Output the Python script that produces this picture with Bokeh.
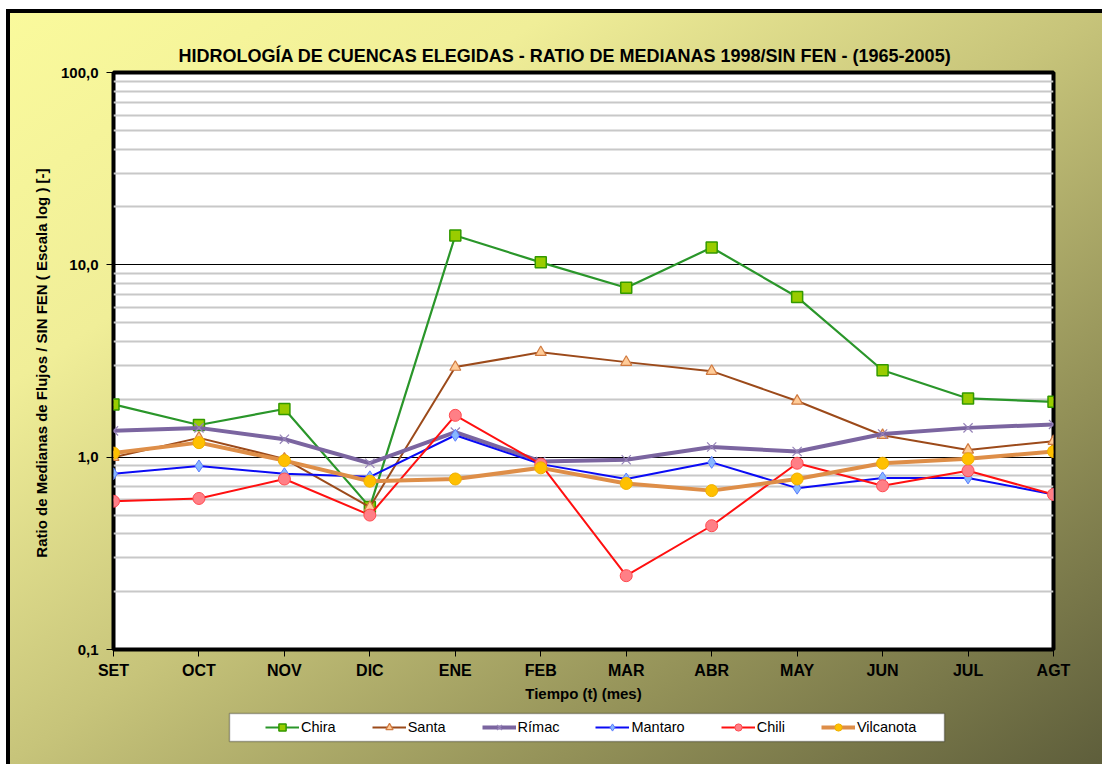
from bokeh.plotting import figure
from bokeh.layouts import column
from bokeh.models import (Range1d, FixedTicker, CustomJSTickFormatter, Legend, LegendItem, BoxAnnotation)
from bokeh.embed import file_html
from bokeh.resources import INLINE

months = ["SET", "OCT", "NOV", "DIC", "ENE", "FEB", "MAR", "ABR", "MAY", "JUN", "JUL", "AGT"]
chira = [1.88, 1.47, 1.78, 0.55, 14.2, 10.3, 7.6, 12.3, 6.8, 2.83, 2.02, 1.94]
santa = [1.00, 1.26, 0.98, 0.55, 2.94, 3.51, 3.12, 2.80, 1.96, 1.30, 1.09, 1.21]
rimac = [1.37, 1.42, 1.24, 0.93, 1.35, 0.95, 0.97, 1.13, 1.07, 1.32, 1.42, 1.48]
mantaro = [0.82, 0.90, 0.82, 0.79, 1.30, 0.92, 0.77, 0.94, 0.69, 0.78, 0.78, 0.64]
chili = [0.59, 0.61, 0.77, 0.50, 1.65, 0.92, 0.242, 0.44, 0.93, 0.71, 0.85, 0.64]
vilcanota = [1.05, 1.19, 0.96, 0.75, 0.77, 0.88, 0.73, 0.67, 0.77, 0.93, 0.98, 1.07]
y_ticks = [0.1, 1, 10, 100]

FONT = "Liberation Sans"
x = list(range(len(months)))

p = figure(width=1102, height=705, output_backend="svg", toolbar_location=None,
           y_axis_type="log", x_range=Range1d(0, len(months) - 1),
           y_range=Range1d(y_ticks[0], y_ticks[-1]),
           min_border_left=113, min_border_top=72, min_border_right=49, min_border_bottom=56,
           frame_width=940, frame_height=577,
           title="HIDROLOGÍA DE CUENCAS ELEGIDAS - RATIO DE MEDIANAS 1998/SIN  FEN - (1965-2005)")

p.border_fill_color = None
p.background_fill_color = "white"
p.outline_line_color = "black"
p.outline_line_width = 4

p.title.align = "left"
p.title.offset = 65
p.title.text_font = FONT
p.title.text_font_size = "18px"
p.title.text_font_style = "bold"
p.title.text_color = "black"
p.title.standoff = 14

minor = [d * k for d in y_ticks[:-1] for k in range(2, 10)]
p.yaxis.ticker = FixedTicker(ticks=y_ticks, minor_ticks=minor)
p.yaxis.formatter = CustomJSTickFormatter(code="return tick.toFixed(1).replace('.', ',');")
p.xaxis.ticker = FixedTicker(ticks=x)
p.xaxis.major_label_overrides = {i: m for i, m in enumerate(months)}

p.xgrid.grid_line_color = None
p.ygrid.grid_line_color = "black"
p.ygrid.grid_line_width = 1
p.ygrid.minor_grid_line_color = "#C8C8C8"
p.ygrid.minor_grid_line_width = 2

for ax in (p.xaxis, p.yaxis):
    ax.axis_line_color = None
    ax.major_tick_line_color = "black"
    ax.major_tick_line_width = 1
    ax.major_tick_out = 7
    ax.major_tick_in = 0
    ax.minor_tick_line_color = None
    ax.major_label_text_font = FONT
    ax.major_label_text_font_style = "bold"
    ax.major_label_text_color = "black"
    ax.axis_label_text_font = FONT
    ax.axis_label_text_font_style = "bold"
    ax.axis_label_text_font_size = "15px"
    ax.axis_label_text_color = "black"

p.xaxis.major_label_text_font_size = "16px"
p.yaxis.major_label_text_font_size = "15px"
p.xaxis.major_label_standoff = 5
p.yaxis.major_label_standoff = 8
p.xaxis.axis_label = "Tiempo (t) (mes)"
p.xaxis.axis_label_standoff = 3
p.yaxis.axis_label = "Ratio de Medianas de Flujos / SIN FEN  ( Escala log ) [-]"
p.yaxis.axis_label_standoff = 8

series = [
    ("Chira", chira, dict(line_color="#2A962A", line_width=2.2),
     dict(marker="square", size=11, fill_color="#99CC00", line_color="#339900", line_width=1.5)),
    ("Santa", santa, dict(line_color="#9C4A1A", line_width=2),
     dict(marker="triangle", size=11, fill_color="#FFCC99", line_color="#D07A40", line_width=1.2)),
    ("Rímac", rimac, dict(line_color="#7B65A0", line_width=4),
     dict(marker="x", size=13, fill_color=None, line_color="#9683B8", line_width=1.2)),
    ("Mantaro", mantaro, dict(line_color="#0A0AF5", line_width=2),
     dict(marker="diamond", size=12, fill_color="#88B8FF", line_color="#5A7CFF", line_width=1)),
    ("Chili", chili, dict(line_color="#FF1010", line_width=2),
     dict(marker="circle", size=12, fill_color="#FF7F86", line_color="#FF4A50", line_width=1)),
    ("Vilcanota", vilcanota, dict(line_color="#DE8E48", line_width=4),
     dict(marker="circle", size=12, fill_color="#FFC000", line_color="#F0B000", line_width=1)),
]

for name, vals, lkw, mkw in series:
    p.line(x, vals, **lkw)
    p.scatter(x, vals, **mkw)

# legend strip below the chart (its sample glyphs lie outside its own visible range)
q = figure(width=1102, height=59, output_backend="svg", toolbar_location=None,
           x_range=Range1d(0, len(months) - 1), y_range=Range1d(1000, 2000),
           min_border=0, min_border_left=0, min_border_right=0,
           min_border_top=0, min_border_bottom=0)
q.axis.visible = False
q.grid.visible = False
q.outline_line_color = None
q.border_fill_color = None
q.background_fill_color = None

items = []
for name, vals, lkw, mkw in series:
    r1 = q.line(x, vals, **lkw)
    r2 = q.scatter(x, vals, **mkw)
    items.append(LegendItem(label=name, renderers=[r1, r2]))

box = BoxAnnotation(left=229, right=944, top=8, bottom=36,
                    left_units="canvas", right_units="canvas",
                    top_units="canvas", bottom_units="canvas",
                    fill_color="white", fill_alpha=1,
                    line_color="black", line_width=1.5)
q.add_layout(box)

legend = Legend(items=items, orientation="horizontal", location=(152, 28))
legend.label_text_font = FONT
legend.label_text_font_size = "14.5px"
legend.label_text_color = "black"
legend.label_standoff = 2
legend.label_height = 18
legend.glyph_width = 34
legend.glyph_height = 18
legend.spacing = 36
legend.padding = 0
legend.margin = 0
legend.border_line_color = None
legend.background_fill_alpha = 0
q.add_layout(legend)

layout = column(p, q, spacing=0)
layout.styles = {
    "background": (
        "linear-gradient(#000, #000) 6px 9px / 4px calc(100% - 9px) no-repeat, "
        "linear-gradient(#000, #000) 6px 9px / calc(100% - 6px) 4px no-repeat, "
        "linear-gradient(to bottom right, #FAFA9C 0%, #F0EE98 25%, #C7C47A 50%, "
        "#939158 75%, #5E5E3B 100%) 6px 9px / calc(100% - 6px) calc(100% - 9px) no-repeat, "
        "#ffffff"
    ),
}

open("out.html", "w").write(file_html(layout, INLINE))
